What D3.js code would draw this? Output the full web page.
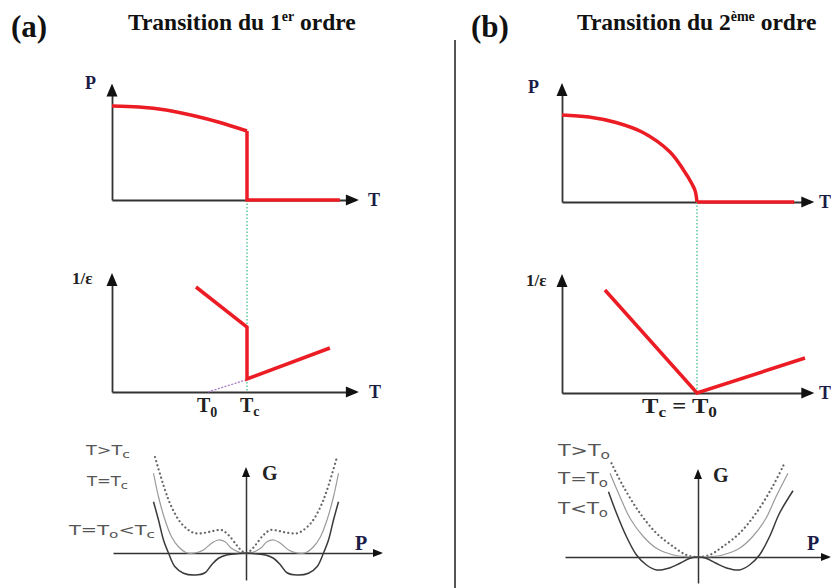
<!DOCTYPE html>
<html><head><meta charset="utf-8">
<script src="https://cdn.jsdelivr.net/npm/d3@7"></script>
<style>
html,body{margin:0;padding:0;background:#fff;}
svg{display:block;}
</style>
</head><body>
<svg id="c" width="831" height="588"></svg>
<script>
// ---------- DATA ----------
// Panel (a) first-order: polarisation P(T)
const Tc_a = 5;
const T_P_a = [0, 1, 2, 3, 4, 5];
const P_a   = [3.76, 3.72, 3.6, 3.38, 3.1, 2.76];
const T_P_a_high = [5, 5, 8.44];
const P_a_high   = [2.76, 0, 0];
// Panel (a) 1/epsilon(T)
const T_E_a = [3.11, 5, 5, 8.07];
const E_a   = [5.25, 3.25, 0.65, 2.2];
const T_E_a_extrap = [3.55, 5];
const E_a_extrap   = [0, 0.62];
// Panel (a) Landau free energy G(P)
const P_G_a_above = [-1.82,-1.62,-1.49,-1.32,-1.15,-1.02,-0.82,-0.66,-0.49,-0.35,-0.19,-0.08,0,0.08,0.19,0.35,0.49,0.66,0.82,1.02,1.15,1.32,1.49,1.62,1.82];
const G_a_above   = [3.84,2.52,1.85,1.25,0.92,0.79,0.81,0.88,0.92,0.72,0.32,0.08,0,0.08,0.32,0.72,0.92,0.88,0.81,0.79,0.92,1.25,1.85,2.52,3.84];
const P_G_a_eq = [-1.85,-1.75,-1.62,-1.49,-1.35,-1.19,-1.02,-0.85,-0.69,-0.55,-0.42,-0.29,-0.12,0,0.12,0.29,0.42,0.55,0.69,0.85,1.02,1.19,1.35,1.49,1.62,1.75,1.85];
const G_a_eq   = [3.19,2.25,1.32,0.65,0.25,0.01,0,0.12,0.39,0.52,0.45,0.19,0.02,0,0.02,0.19,0.45,0.52,0.39,0.12,0,0.01,0.25,0.65,1.32,2.25,3.19];
const P_G_a_below = [-1.85,-1.75,-1.65,-1.55,-1.42,-1.25,-1.02,-0.82,-0.69,-0.55,-0.39,-0.19,0,0.19,0.39,0.55,0.69,0.82,1.02,1.25,1.42,1.55,1.65,1.75,1.85];
const G_a_below   = [2.05,1.32,0.52,0,-0.55,-0.81,-0.88,-0.79,-0.48,-0.21,-0.08,-0.03,0,-0.03,-0.08,-0.21,-0.48,-0.79,-0.88,-0.81,-0.55,0,0.52,1.32,2.05];

// Panel (b) second-order: P(T)
const Tc_b = 5;
const T_P_b = [0, 1, 2, 3, 4, 4.5, 4.8, 4.93, 5];
const P_b   = [3.48, 3.4, 3.18, 2.78, 2.0, 1.28, 0.75, 0.45, 0];
const T_P_b_high = [5, 8.6];
const P_b_high   = [0, 0];
// Panel (b) 1/epsilon(T)
const T_E_b = [1.59, 5, 9.0];
const E_b   = [5.15, 0, 1.75];
// Panel (b) G(P)
const P_G_b_above = [-1.73,-1.49,-1.16,-0.83,-0.49,-0.23,0,0.23,0.49,0.83,1.16,1.49,1.73];
const G_b_above   = [3.75,2.81,1.75,0.95,0.41,0.08,0,0.08,0.41,0.95,1.75,2.81,3.75];
const P_G_b_eq = [-1.76,-1.56,-1.36,-1.09,-0.83,-0.49,-0.23,0,0.23,0.49,0.83,1.09,1.36,1.56,1.8];
const G_b_eq   = [3.35,2.41,1.55,0.81,0.35,0.08,0.01,0,0.01,0.08,0.35,0.81,1.55,2.41,3.35];
const P_G_b_below = [-1.79,-1.63,-1.43,-1.23,-1.03,-0.83,-0.59,-0.36,-0.16,0,0.16,0.36,0.59,0.83,1.03,1.23,1.43,1.63,1.9];
const G_b_below   = [2.61,1.75,0.81,0.08,-0.32,-0.52,-0.45,-0.25,-0.05,0,-0.05,-0.25,-0.45,-0.52,-0.32,0.08,0.81,1.75,2.65];

// ---------- DRAWING ----------
const svg = d3.select("#c");
const SERIF = "'Liberation Serif','Times New Roman',serif";
const SANS = "'DejaVu Sans',Verdana,sans-serif";
const RED = "#ec1c24";

const zip = (xs, ys) => xs.map((x, i) => [x, ys[i]]);

// scales
const xa = d3.scaleLinear().domain([0, 9]).range([112, 355]);
const yPa = d3.scaleLinear().domain([0, 4.5]).range([200, 87.5]);
const yEa = d3.scaleLinear().domain([0, 5.75]).range([392, 277]);
const xb = d3.scaleLinear().domain([0, 9.2]).range([562, 810.4]);
const yPb = d3.scaleLinear().domain([0, 4.6]).range([202, 87]);
const yEb = d3.scaleLinear().domain([0, 5.75]).range([393, 278]);
const xGa = d3.scaleLinear().domain([-2.66, 2.68]).range([113, 380]);
const yGa = d3.scaleLinear().domain([-1.08, 3.32]).range([580, 470]);
const xGb = d3.scaleLinear().domain([-2.66, 2.6]).range([565, 828]);
const yGb = d3.scaleLinear().domain([-1.04, 3.4]).range([583, 472]);

// axis helper: draws the domain line via d3 axis, plus arrowhead
function axisPair(x, y, opts) {
  const g = svg.append("g");
  const x0 = x.domain()[0] < 0 ? 0 : x.domain()[0];
  const y0 = y.domain()[0] < 0 ? 0 : y.domain()[0];
  const gx = g.append("g").attr("transform", `translate(0,${y(y0)})`)
    .call(d3.axisBottom(x).tickValues([]).tickSizeOuter(0));
  const gy = g.append("g").attr("transform", `translate(${x(x0)},0)`)
    .call(d3.axisLeft(y).tickValues([]).tickSizeOuter(0));
  [gx, gy].forEach(a => a.select(".domain").attr("stroke", opts.color).attr("stroke-width", opts.w));
  const L = opts.al, W = opts.aw;
  const xe = x.range()[1], ye = y.range()[1];
  g.append("path").attr("d", `M${xe + L * 0.3},${y(y0)} L${xe - L * 0.7},${y(y0) - W / 2} L${xe - L * 0.7},${y(y0) + W / 2} Z`).attr("fill", "#111");
  g.append("path").attr("d", `M${x(x0)},${ye - L * 0.3} L${x(x0) - W / 2},${ye + L * 0.7} L${x(x0) + W / 2},${ye + L * 0.7} Z`).attr("fill", "#111");
}

function line(x, y, pts, curve) {
  return d3.line().x(d => x(d[0])).y(d => y(d[1])).curve(curve || d3.curveLinear)(pts);
}

// axes
axisPair(xa, yPa, {color: "#333", w: 1.8, al: 13, aw: 11});
axisPair(xa, yEa, {color: "#333", w: 1.8, al: 13, aw: 11});
axisPair(xb, yPb, {color: "#333", w: 1.8, al: 13, aw: 11});
axisPair(xb, yEb, {color: "#333", w: 1.8, al: 13, aw: 11});
axisPair(xGa, yGa, {color: "#333", w: 1.5, al: 10, aw: 8});
axisPair(xGb, yGb, {color: "#333", w: 1.5, al: 10, aw: 8});

// green dotted Tc guides
svg.append("line").attr("x1", xa(Tc_a)).attr("x2", xa(Tc_a)).attr("y1", yPa(0)).attr("y2", yEa(0))
  .attr("stroke", "#5cc89a").attr("stroke-width", 1.5).attr("stroke-dasharray", "1.5,2");
svg.append("line").attr("x1", xb(Tc_b)).attr("x2", xb(Tc_b)).attr("y1", yPb(0)).attr("y2", yEb(0))
  .attr("stroke", "#5cc89a").attr("stroke-width", 1.5).attr("stroke-dasharray", "1.5,2");

// purple extrapolation
svg.append("path").attr("d", line(xa, yEa, zip(T_E_a_extrap, E_a_extrap)))
  .attr("fill", "none").attr("stroke", "#a77ac8").attr("stroke-width", 1.3).attr("stroke-dasharray", "2,1.5");

// red curves
const redStyle = sel => sel.attr("fill", "none").attr("stroke", RED).attr("stroke-width", 3.5).attr("stroke-linejoin", "miter");
svg.append("path").attr("d", line(xa, yPa, zip(T_P_a, P_a), d3.curveMonotoneX)).call(redStyle);
svg.append("path").attr("d", line(xa, yPa, zip(T_P_a_high, P_a_high))).call(redStyle);
svg.append("path").attr("d", line(xa, yEa, zip(T_E_a, E_a))).call(redStyle);
svg.append("path").attr("d", line(xb, yPb, zip(T_P_b, P_b), d3.curveCatmullRom.alpha(0.5))).call(redStyle);
svg.append("path").attr("d", line(xb, yPb, zip(T_P_b_high, P_b_high))).call(redStyle);
svg.append("path").attr("d", line(xb, yEb, zip(T_E_b, E_b))).call(redStyle);

// G curves
function gCurves(x, y, above, eq, below) {
  svg.append("path").attr("d", line(x, y, above, d3.curveCatmullRom.alpha(0.5)))
    .attr("fill", "none").attr("stroke", "#666").attr("stroke-width", 2.2)
    .attr("stroke-linecap", "round").attr("stroke-dasharray", "0.1,4.2");
  svg.append("path").attr("d", line(x, y, eq, d3.curveCatmullRom.alpha(0.5)))
    .attr("fill", "none").attr("stroke", "#9a9a9a").attr("stroke-width", 1.2);
  svg.append("path").attr("d", line(x, y, below, d3.curveCatmullRom.alpha(0.5)))
    .attr("fill", "none").attr("stroke", "#3a3a3a").attr("stroke-width", 1.5);
}
gCurves(xGa, yGa, zip(P_G_a_above, G_a_above), zip(P_G_a_eq, G_a_eq), zip(P_G_a_below, G_a_below));
gCurves(xGb, yGb, zip(P_G_b_above, G_b_above), zip(P_G_b_eq, G_b_eq), zip(P_G_b_below, G_b_below));

// separator
svg.append("line").attr("x1", 455).attr("x2", 455).attr("y1", 40).attr("y2", 588)
  .attr("stroke", "#555").attr("stroke-width", 2);

// ---------- TEXT ----------
function txt(x, y, size, family, parts, color, weight, len) {
  const t = svg.append("text").attr("x", x).attr("y", y)
    .attr("font-family", family).attr("font-size", size)
    .attr("font-weight", weight || "bold").attr("fill", color || "#111");
  if (len) t.attr("textLength", len).attr("lengthAdjust", "spacingAndGlyphs");
  parts.forEach(p => {
    const s = t.append("tspan").text(p.t);
    if (p.dy) s.attr("dy", p.dy);
    if (p.fs) s.attr("font-size", p.fs);
  });
  return t;
}
// headings
txt(11, 37, 31, SERIF, [{t: "(a)"}]);
txt(471, 37, 31, SERIF, [{t: "(b)"}]);
txt(128, 30, 23.5, SERIF, [{t: "Transition du 1"}, {t: "er", dy: -9, fs: 14}, {t: " ordre", dy: 9}]);
txt(577, 30, 23.5, SERIF, [{t: "Transition du 2"}, {t: "ème", dy: -9, fs: 14}, {t: " ordre", dy: 9}]);

const NAVY = "#1c1c48";
// axis labels (a)
txt(85, 89, 18, SERIF, [{t: "P"}], NAVY);
txt(368, 206, 18, SERIF, [{t: "T"}], NAVY);
txt(72, 284, 17, SERIF, [{t: "1/ε"}], "#222");
txt(369, 398, 18, SERIF, [{t: "T"}], NAVY);
txt(197, 412, 20, SERIF, [{t: "T"}, {t: "0", dy: 5, fs: 14}], "#222");
txt(240, 412, 20, SERIF, [{t: "T"}, {t: "c", dy: 4, fs: 14}], "#222");
txt(262, 480, 20, SERIF, [{t: "G"}], "#222");
txt(355, 550, 20, SERIF, [{t: "P"}], NAVY);
// G labels (a)
const GL = "#555";
txt(86, 455, 14, SANS, [{t: "T>T"}, {t: "c", dy: 3, fs: 11}], GL, "normal", 44);
txt(87, 486, 14, SANS, [{t: "T=T"}, {t: "c", dy: 3, fs: 11}], GL, "normal", 41);
txt(69, 535, 14, SANS, [{t: "T=T"}, {t: "o", dy: 3, fs: 11}, {t: "<T", dy: -3}, {t: "c", dy: 3, fs: 11}], GL, "normal", 86);

// axis labels (b)
txt(528, 93, 18, SERIF, [{t: "P"}], NAVY);
txt(819, 208, 18, SERIF, [{t: "T"}], NAVY);
txt(526, 286, 17, SERIF, [{t: "1/ε"}], "#222");
txt(819, 399, 18, SERIF, [{t: "T"}], NAVY);
txt(642, 413, 20, SERIF, [{t: "T"}, {t: "c", dy: 4, fs: 14}, {t: " = ", dy: -4}, {t: "T"}, {t: "0", dy: 4, fs: 14}], "#222", "bold", 75);
txt(713, 482, 20, SERIF, [{t: "G"}], "#222");
txt(807, 550, 20, SERIF, [{t: "P"}], NAVY);
// G labels (b)
txt(558, 456, 16, SANS, [{t: "T>T"}, {t: "o", dy: 3, fs: 12}], GL, "normal", 52);
txt(558, 484, 16, SANS, [{t: "T=T"}, {t: "o", dy: 3, fs: 12}], GL, "normal", 50);
txt(558, 514, 16, SANS, [{t: "T<T"}, {t: "o", dy: 3, fs: 12}], GL, "normal", 50);
</script>
</body></html>
